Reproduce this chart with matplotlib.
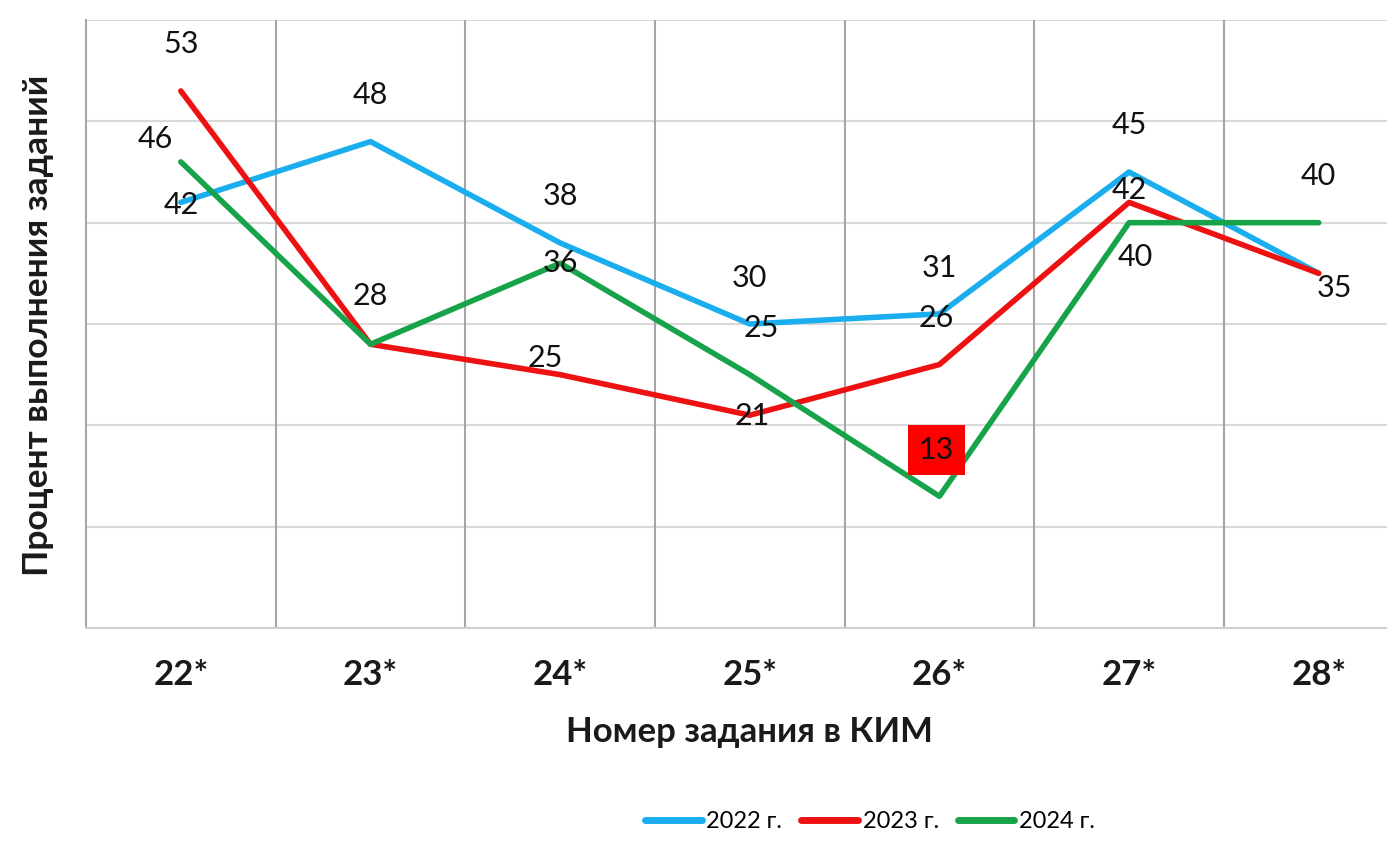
import matplotlib
matplotlib.use("Agg")
import matplotlib.pyplot as plt
from matplotlib.transforms import blended_transform_factory

categories = ["22*", "23*", "24*", "25*", "26*", "27*", "28*"]
y2022 = [42, 48, 38, 30, 31, 45, 35]
y2023 = [53, 28, 25, 21, 26, 42, 35]
y2024 = [46, 28, 36, 25, 13, 40, 40]
series_names = ["2022 г.", "2023 г.", "2024 г."]
colors = ["#1AAEEF", "#EE1111", "#17A34A"]

# data label placement (series index, category index, dx px, dy px)
label_places = [
    (1, 0, 0, 47), (2, 0, -25, 23), (0, 0, 0, -3),
    (0, 1, 0, 47), (2, 1, 0, 48),
    (0, 2, 0, 47), (2, 2, 0, 0), (1, 2, -15, 17),
    (0, 3, 0, 46), (2, 3, 12, 47), (1, 3, 2, -1),
    (0, 4, 0, 46), (1, 4, -3, 47), (2, 4, -3, 46),
    (0, 5, 0, 47), (1, 5, 0, 12), (2, 5, 6, -34),
    (2, 6, 0, 47), (1, 6, 16, -15),
]

plt.rcParams['font.family'] = ['Lato', 'DejaVu Sans']

fig = plt.figure(figsize=(13.87, 8.48), dpi=100)
ax = fig.add_axes([86 / 1387, 1 - 628 / 848, 1 - 86 / 1387, (628 - 20) / 848])

x = list(range(len(categories)))
all_series = [y2022, y2023, y2024]
lines = []
for vals, name, c in zip(all_series, series_names, colors):
    ln, = ax.plot(x, vals, color=c, lw=4.0, label=name, solid_capstyle='round',
                  solid_joinstyle='round', zorder=3)
    lines.append(ln)

ax.set_xlim(-0.5, 6.36)
ax.set_ylim(0, 60)

for yv in range(10, 61, 10):
    ax.axhline(yv, color="#D9D9D9", lw=1.5, zorder=1)
for xv in [i + 0.5 for i in range(len(categories) - 1)]:
    ax.axvline(xv, color="#A6A6A6", lw=1.5, zorder=1)

for s in ["top", "right"]:
    ax.spines[s].set_visible(False)
ax.spines["left"].set_color("#A6A6A6")
ax.spines["left"].set_linewidth(1.5)
ax.spines["bottom"].set_color("#D0D0D0")
ax.spines["bottom"].set_linewidth(1.5)

ax.set_yticks([])
ax.set_xticks(x)
ax.set_xticklabels(categories, fontsize=25, fontweight="bold", color="#1A1A1A")
ax.tick_params(axis="x", length=0, pad=22)

trans = blended_transform_factory(ax.transData, fig.transFigure)
ax.text(3, 1 - 732 / 848, "Номер задания в КИМ", transform=trans, ha="center",
        va="center", fontsize=25, fontweight="bold", color="#1A1A1A")
fig.text(38 / 1387, 1 - 325 / 848, "Процент выполнения заданий", rotation=90,
         ha="center", va="center", fontsize=25.5, fontweight="bold", color="#1A1A1A")

for si, ci, dx, dy in label_places:
    val = all_series[si][ci]
    kw = {}
    if si == 2 and ci == 4:
        kw["bbox"] = dict(boxstyle="square,pad=0.36", facecolor="#FF0000", edgecolor="none")
    ax.annotate(str(val), xy=(ci, val), xytext=(dx, dy), textcoords="offset pixels",
                ha="center", va="center", fontsize=22, color="#111111", zorder=5, **kw)

fig.legend(handles=lines, loc="center", bbox_to_anchor=(870 / 1387, 1 - 822 / 848),
           ncol=3, frameon=False, handlelength=2.4, handletextpad=0.2,
           columnspacing=0.8, prop={"size": 17})
for lh in fig.legends[0].get_lines():
    lh.set_linewidth(5)

fig.savefig("out.png", dpi=100, facecolor="white")
